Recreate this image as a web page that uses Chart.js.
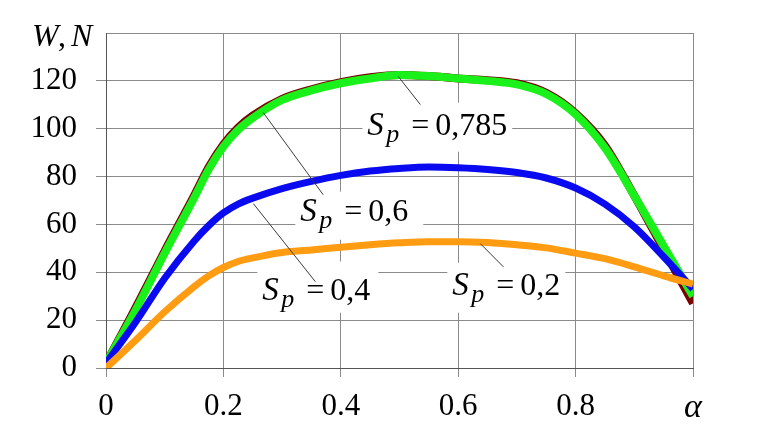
<!DOCTYPE html>
<html><head><meta charset="utf-8">
<script src="https://cdn.jsdelivr.net/npm/chart.js@4.4.0/dist/chart.umd.min.js"></script>
<style>html,body{margin:0;padding:0;background:#fff;}</style>
</head><body>
<canvas id="c" width="761" height="448"></canvas>
<script>
// alpha values (x)
const alphaValues = [0,0.05,0.1,0.15,0.175,0.2,0.225,0.25,0.3,0.35,0.4,0.45,0.5,0.55,0.6,0.65,0.7,0.75,0.8,0.85,0.9,0.95,1.0];
// W, N series
const seriesDarkRed = [2,25,49,72,84,93.5,100.5,105.5,112.5,116.5,119.5,121.5,122.5,122,121,120.3,119,115,106.5,93,72,49.5,27];
const seriesGreen   = [2,24,48,71,83,92.5,99.5,104.5,112,116,119,121,122.5,122,121,120,118.5,114.5,106,92,72,51,30];
const seriesBlue    = [2,19,37.5,53,59.5,64.8,68.5,71,75,78,80.5,82.3,83.4,84,83.7,83,81.7,79.4,75.2,68.5,59,46.5,33];
const seriesOrange  = [0,11.5,23.5,34,38.5,42,44.5,46,48.3,49.3,50.5,51.5,52.3,52.8,52.8,52.4,51.5,50.2,48,45.7,42.3,38.5,35];
const seriesLabels  = ['0,785','0,6','0,4','0,2'];
const xTickValues = [0,0.2,0.4,0.6,0.8,1.0];
const xTickLabels = ['0','0.2','0.4','0.6','0.8','α'];
const yTickValues = [0,20,40,60,80,100,120,140];
const yTickLabels = ['0','20','40','60','80','100','120',''];

// annotation placement (data units): text origin, white box, leader line
const annotText = [[0.445,97.3],[0.331,61.3],[0.266,28.6],[0.59,30.6]];
const annotBox  = [[0.437,110.9,0.692,90.4],[0.3225,73.7,0.5405,53.6],[0.2578,44.5,0.4639,23.1],[0.5815,44.0,0.7826,23.1]];
const annotLine = [[0.498,121.8,0.5355,110.1],[0.268,106.7,0.370,72.4],[0.251,68.7,0.3566,36.1],[0.6377,52.0,0.6769,42.3]];

const FF = '"Liberation Serif", "Times New Roman", serif';
const pts = arr => arr.map((v,i)=>({x:alphaValues[i], y:v}));
function ds(label, data, color, w, order){
  return {label, data: pts(data), borderColor: color, borderWidth: w, pointRadius: 0,
    cubicInterpolationMode: 'monotone', fill: false, order};
}

const annotPlugin = {
  id: 'annot',
  beforeDatasetsDraw(chart){
    const {ctx, scales:{x, y}} = chart;
    ctx.save();
    ctx.fillStyle = '#fff';
    annotBox.forEach(b=>{
      const x0=x.getPixelForValue(b[0]), y0=y.getPixelForValue(b[1]);
      const x1=x.getPixelForValue(b[2]), y1=y.getPixelForValue(b[3]);
      ctx.fillRect(x0,y0,x1-x0,y1-y0);
    });
    ctx.restore();
  },
  afterDatasetsDraw(chart){
    const {ctx, scales:{x, y}} = chart;
    ctx.save();
    ctx.strokeStyle = '#3a3a3a'; ctx.lineWidth = 1;
    annotLine.forEach(l=>{
      ctx.beginPath();
      ctx.moveTo(x.getPixelForValue(l[0]), y.getPixelForValue(l[1]));
      ctx.lineTo(x.getPixelForValue(l[2]), y.getPixelForValue(l[3]));
      ctx.stroke();
    });
    ctx.fillStyle = '#000'; ctx.textAlign = 'left'; ctx.textBaseline = 'alphabetic';
    annotText.forEach((t,i)=>{
      const px = x.getPixelForValue(t[0]), py = y.getPixelForValue(t[1]);
      ctx.font = 'italic 33px ' + FF; ctx.fillText('S', px, py);
      ctx.font = 'italic 26px ' + FF; ctx.fillText('p', px+19, py+7);
      ctx.font = '32px ' + FF; ctx.fillText('=', px+44, py); ctx.fillText(seriesLabels[i], px+68, py);
    });
    // axis title W, N at the top of the y axis
    const top = y.getPixelForValue(140) + 13;
    ctx.font = 'italic 32px ' + FF; ctx.fillText('W', 32, top);
    ctx.font = '32px ' + FF; ctx.fillText(',', 58, top);
    ctx.font = 'italic 32px ' + FF; ctx.fillText('N', 71, top);
    ctx.restore();
  }
};

const near = (a,b)=>Math.abs(a-b)<1e-6;
new Chart(document.getElementById('c'), {
  type: 'line',
  data: { datasets: [
    ds('Sp = 0,785', seriesDarkRed, '#7a0000', 8, 4),
    ds('Sp = 0,6', seriesGreen, '#1af01a', 8, 3),
    ds('Sp = 0,4', seriesBlue, '#0a0af0', 7, 2),
    ds('Sp = 0,2', seriesOrange, '#ff9c12', 7, 1)
  ]},
  options: {
    responsive: false, animation: false, devicePixelRatio: 1,
    layout: { padding: { top: 33, right: 68, bottom: 0, left: 0 } },
    plugins: { legend: { display: false }, tooltip: { enabled: false } },
    scales: {
      x: {
        type: 'linear', min: 0, max: 1,
        afterBuildTicks: s => { s.ticks = xTickValues.map(v=>({value:v})); },
        afterFit: s => { s.height = 80; s.paddingLeft = 0; s.paddingRight = 0; },
        ticks: {
          padding: 11, color: '#000',
          callback: v => { const i = xTickValues.findIndex(t=>near(t,v)); return i<0?'':xTickLabels[i]; },
          font: c => (c.tick && near(c.tick.value,1)) ? {family: FF, size: 34, style: 'italic'} : {family: FF, size: 31}
        },
        grid: { color: '#8a8a8a', lineWidth: 1, tickLength: 9, tickColor: '#8a8a8a' },
        border: { display: true, color: '#555', width: 1 }
      },
      y: {
        type: 'linear', min: 0, max: 140,
        afterBuildTicks: s => { s.ticks = yTickValues.map(v=>({value:v})); },
        afterFit: s => { s.width = 106; s.paddingTop = 0; s.paddingBottom = 0; },
        ticks: {
          padding: 19, color: '#000', font: {family: FF, size: 31},
          callback: v => { const i = yTickValues.findIndex(t=>near(t,v)); return i<0?'':yTickLabels[i]; }
        },
        grid: { color: '#8a8a8a', lineWidth: 1, tickLength: 10,
          tickColor: c => (c.tick && c.tick.value === 140) ? 'rgba(0,0,0,0)' : '#8a8a8a' },
        border: { display: true, color: '#555', width: 1 }
      }
    }
  },
  plugins: [annotPlugin]
});
</script>
</body></html>
